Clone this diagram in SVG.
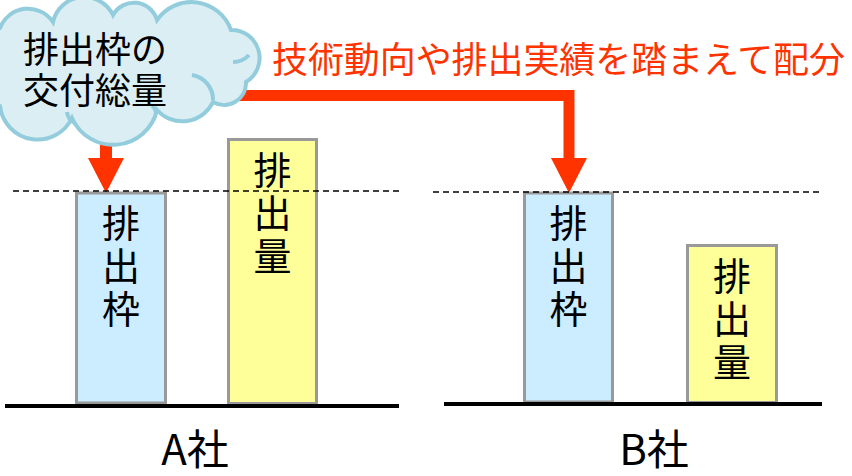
<svg xmlns="http://www.w3.org/2000/svg" width="852" height="476" viewBox="0 0 852 476">
<style>
.t{font-family:"Noto Sans CJK JP","Noto Sans",sans-serif;fill:#000}
.v{font-family:"Noto Sans CJK JP","Noto Sans",sans-serif;fill:#000;font-size:38px;writing-mode:vertical-rl;letter-spacing:5px}
.bar-blue{fill:#CCECFF;stroke:#999999;stroke-width:3}
.bar-yel{fill:#FFFF99;stroke:#999999;stroke-width:3}
.dash{stroke:#000;stroke-width:1.5;stroke-dasharray:6 4;fill:none}
.base{stroke:#000;stroke-width:4;fill:none}
.red{stroke:#FF3300;stroke-width:12;fill:none}
.cl{fill:none;stroke:#93CDDD;stroke-width:4}
</style>
<defs>
<marker id="ah" markerUnits="userSpaceOnUse" markerWidth="36" markerHeight="36" viewBox="0 0 36 36" refX="0" refY="18" orient="auto">
<polygon points="0,0 35,18 0,36" fill="#FF3300"/>
</marker>
</defs>
<rect width="852" height="476" fill="#fff"/>

<g id="connectors">
<path class="red" d="M106,128 V158" marker-end="url(#ah)"/>
<path class="red" style="stroke-width:11" d="M205,95.5 H569 V158" marker-end="url(#ah)"/>
</g>

<g id="cloud">
<path d="M0,28 A30,30 0 0 1 53,22 A32,32 0 0 1 113,15 A24,24 0 0 1 157,20 A42,42 0 0 1 231,30 A28,28 0 0 1 246,82 A22,22 0 0 1 213,102 A34,34 0 0 1 157,110 A45,45 0 0 1 72,118 A38,38 0 0 1 0,106 A45,45 0 0 1 0,28 Z" fill="#DAEEF3" stroke="#93CDDD" stroke-width="4"/>
<path class="cl" d="M192,75 A25,25 0 0 1 213,100"/>
<path class="cl" d="M233,62 A22,22 0 0 0 249,55"/>
<path class="cl" d="M67,112 A14,14 0 0 0 75,123"/>
<path class="cl" d="M152,106 A10,10 0 0 1 156,114"/>
<text class="t" font-size="36"><tspan x="23" y="63">排出枠の</tspan><tspan x="23" y="104">交付総量</tspan></text>
</g>

<g id="label-allocation">
<text x="272" y="73" font-size="36" textLength="573" lengthAdjust="spacing" style="font-family:'Noto Sans CJK JP','Noto Sans',sans-serif;fill:#FF3300">技術動向や排出実績を踏まえて配分</text>
</g>

<g id="companyA">
<rect class="bar-blue" x="76.5" y="193" width="89" height="210"/>
<text class="v" x="121" y="204">排出枠</text>
<rect class="bar-yel" x="228.5" y="139.5" width="88" height="264"/>
<text class="v" x="272.5" y="151">排出量</text>
<line class="dash" x1="13" y1="191" x2="399" y2="191"/>
<line class="base" x1="5" y1="406" x2="399" y2="406"/>
<text class="t" x="195" y="465" font-size="42" text-anchor="middle">A社</text>
</g>

<g id="companyB">
<rect class="bar-blue" x="524.5" y="193" width="88" height="209"/>
<text class="v" x="568.5" y="204">排出枠</text>
<rect class="bar-yel" x="687.5" y="245.5" width="89" height="157"/>
<text class="v" x="732" y="257">排出量</text>
<line class="dash" x1="433" y1="192" x2="819" y2="192"/>
<line class="base" x1="444" y1="404" x2="822" y2="404"/>
<text class="t" x="654" y="465" font-size="42" text-anchor="middle">B社</text>
</g>
</svg>
